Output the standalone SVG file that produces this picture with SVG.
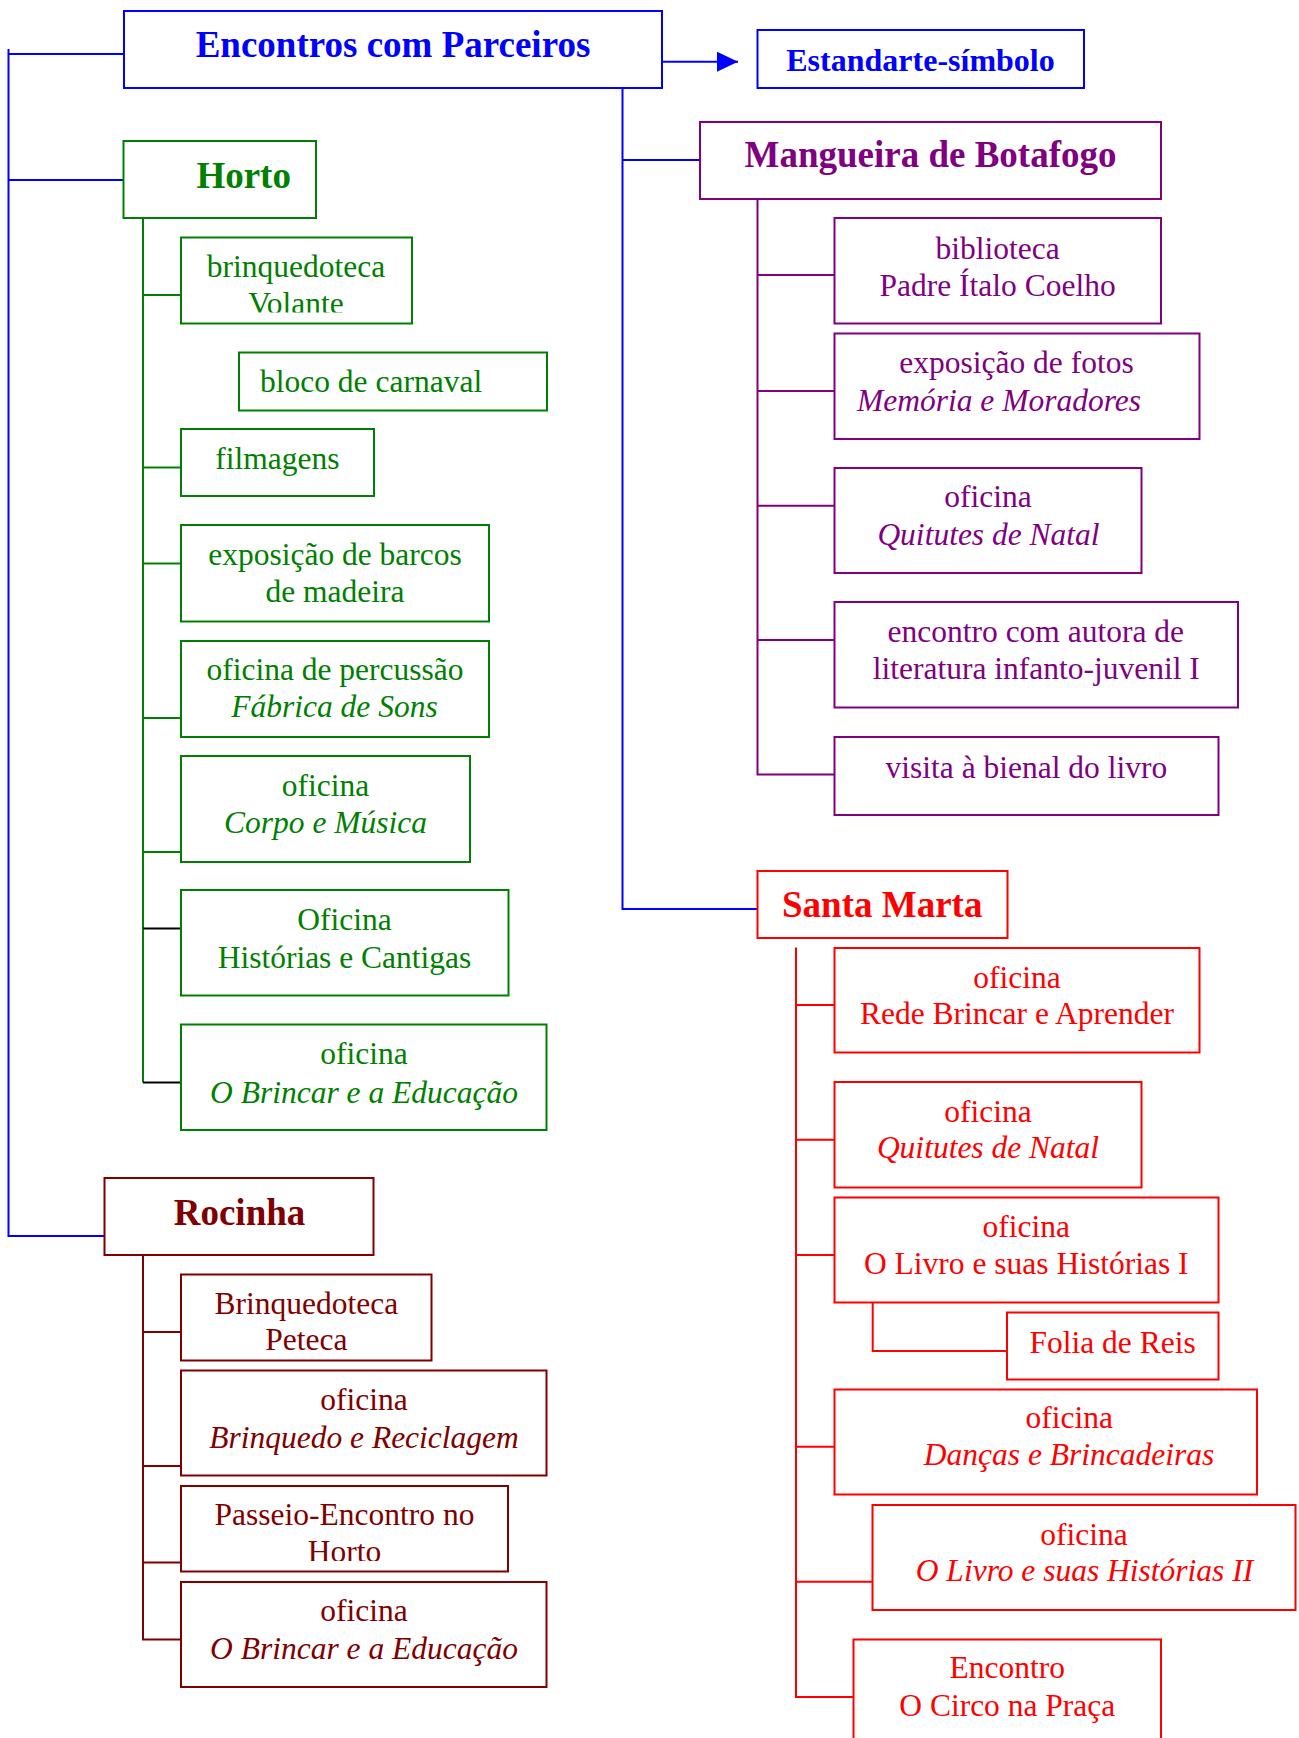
<svg xmlns="http://www.w3.org/2000/svg" width="1299" height="1738" viewBox="0 0 1299 1738">
<style>
rect{fill:#fff;stroke-width:2}
path{fill:none;stroke-width:2}
text{font-family:"Liberation Serif","Times New Roman",serif;font-size:31.5px;text-anchor:middle}
.t{font-weight:bold;font-size:37px}
.i{font-style:italic}
.b rect,.b path{stroke:#0000ff}.b text{fill:#0000ff}
.g rect,.g path{stroke:#008000}.g text{fill:#008000}
.p rect,.p path{stroke:#800080}.p text{fill:#800080}
.d rect,.d path{stroke:#800000}.d text{fill:#800000}
.r rect,.r path{stroke:#ff0000}.r text{fill:#ff0000}
.k path{stroke:#000}
path.head{fill:#0000ff;stroke:none}
</style>
<defs>
<marker id="arr" markerUnits="userSpaceOnUse" markerWidth="22" markerHeight="20" refX="21" refY="10" orient="auto"><path class="head" d="M0,0 L21,10 L0,20 z"/></marker>
<clipPath id="c1"><rect x="0" y="0" width="1299" height="312.5"/></clipPath>
<clipPath id="c2"><rect x="0" y="1300" width="1299" height="261"/></clipPath>
</defs>
<g id="connectors">
<g class="b">
<path d="M8.5,49 V1236 H104.5"/>
<path d="M8.5,54 H124"/>
<path d="M8.5,180 H123.5"/>
<path d="M662,61.7 H738" marker-end="url(#arr)"/>
<path d="M622.5,88 V909 H757.5"/>
<path d="M622.5,160 H700"/>
</g>
<g class="g">
<path d="M143,218 V1082.5"/>
<path d="M143,295 H181 M143,467.5 H181 M143,563.5 H181 M143,718 H181 M143,852 H181"/>
</g>
<g class="k">
<path d="M143,928.5 H181 M143,1082.5 H181"/>
</g>
<g class="d">
<path d="M143,1255 V1639.5 H181 M143,1332 H181 M143,1466 H181 M143,1562.5 H181"/>
</g>
<g class="p">
<path d="M757.5,199 V774.5 H834.5 M757.5,275 H834.5 M757.5,391 H834.5 M757.5,505.7 H834.5 M757.5,640 H834.5"/>
</g>
<g class="r">
<path d="M796,947.5 V1697 H853.5 M796,1005 H834.5 M796,1139.7 H834.5 M796,1255 H834.5 M796,1446.7 H834.5 M796,1581.7 H872.5"/>
<path d="M872.7,1293 V1351 H1007"/>
</g>
</g>

<g id="encontros" class="b"><rect x="124" y="11" width="538" height="77"/><text class="t" x="393" y="56.5">Encontros com Parceiros</text></g>
<g id="estandarte" class="b"><rect x="757.5" y="30" width="326.5" height="58"/><text class="t" style="font-size:32px" x="920.5" y="70.5">Estandarte-símbolo</text></g>

<g id="horto" class="g"><rect x="123.5" y="141" width="192.5" height="77"/><text class="t" x="243.7" y="187.5">Horto</text></g>
<g id="h-brinquedoteca" class="g"><rect x="181" y="237.5" width="231" height="86"/><text x="296" y="277">brinquedoteca</text><text x="296" y="313.5" clip-path="url(#c1)">Volante</text></g>
<g id="h-bloco" class="g"><rect x="239" y="352.5" width="308" height="58"/><text x="260" y="391.5" style="text-anchor:start">bloco de carnaval</text></g>
<g id="h-filmagens" class="g"><rect x="181" y="429" width="193" height="67"/><text x="277.3" y="469">filmagens</text></g>
<g id="h-barcos" class="g"><rect x="181" y="525" width="308" height="96.5"/><text x="335" y="565">exposição de barcos</text><text x="335" y="601.5">de madeira</text></g>
<g id="h-percussao" class="g"><rect x="181" y="641" width="308" height="96"/><text x="335" y="680">oficina de percussão</text><text class="i" x="334.5" y="717">Fábrica de Sons</text></g>
<g id="h-corpo" class="g"><rect x="181" y="756" width="289" height="106"/><text x="325.5" y="795.5">oficina</text><text class="i" x="325.5" y="833">Corpo e Música</text></g>
<g id="h-historias" class="g"><rect x="181" y="890" width="327.5" height="105.5"/><text x="344.5" y="930">Oficina</text><text x="344.5" y="968">Histórias e Cantigas</text></g>
<g id="h-brincar" class="g"><rect x="181" y="1024.5" width="365.5" height="105.5"/><text x="364" y="1064">oficina</text><text class="i" x="364" y="1102.5">O Brincar e a Educação</text></g>

<g id="rocinha" class="d"><rect x="104.5" y="1178" width="269" height="77"/><text class="t" x="239.5" y="1225">Rocinha</text></g>
<g id="r-peteca" class="d"><rect x="181" y="1274.5" width="250.5" height="86"/><text x="306.3" y="1314">Brinquedoteca</text><text x="306.3" y="1349.5">Peteca</text></g>
<g id="r-reciclagem" class="d"><rect x="181" y="1370.5" width="365.5" height="105"/><text x="364" y="1410">oficina</text><text class="i" x="364" y="1448">Brinquedo e Reciclagem</text></g>
<g id="r-passeio" class="d"><rect x="181" y="1486" width="327" height="85.5"/><text x="344.5" y="1525">Passeio-Encontro no</text><text x="344.5" y="1562" clip-path="url(#c2)">Horto</text></g>
<g id="r-brincar" class="d"><rect x="181" y="1582" width="365.5" height="105"/><text x="364" y="1620.5">oficina</text><text class="i" x="364" y="1658.5">O Brincar e a Educação</text></g>

<g id="mangueira" class="p"><rect x="700" y="122" width="461" height="77"/><text class="t" x="930.5" y="166.5">Mangueira de Botafogo</text></g>
<g id="m-biblioteca" class="p"><rect x="834.5" y="218" width="326.5" height="105.5"/><text x="997.6" y="258.5">biblioteca</text><text x="997.6" y="295.5">Padre Ítalo Coelho</text></g>
<g id="m-fotos" class="p"><rect x="834.5" y="333.5" width="365" height="105.5"/><text x="1016.5" y="372.5">exposição de fotos</text><text class="i" x="999" y="410.5">Memória e Moradores</text></g>
<g id="m-quitutes" class="p"><rect x="834.5" y="468" width="307" height="105"/><text x="988" y="506.5">oficina</text><text class="i" x="988.5" y="545">Quitutes de Natal</text></g>
<g id="m-autora" class="p"><rect x="834.5" y="602" width="403.5" height="105.5"/><text x="1035.8" y="641.5">encontro com autora de</text><text x="1036.3" y="679">literatura infanto-juvenil I</text></g>
<g id="m-bienal" class="p"><rect x="834.5" y="737" width="384" height="78"/><text x="1026.4" y="778">visita à bienal do livro</text></g>

<g id="santa-marta" class="r"><rect x="757.5" y="871" width="250" height="67"/><text class="t" x="882.2" y="916.5">Santa Marta</text></g>
<g id="s-rede" class="r"><rect x="834.5" y="948" width="365" height="104.5"/><text x="1017" y="987.5">oficina</text><text x="1017" y="1024">Rede Brincar e Aprender</text></g>
<g id="s-quitutes" class="r"><rect x="834.5" y="1082" width="307" height="105.5"/><text x="988" y="1121.5">oficina</text><text class="i" x="988" y="1158">Quitutes de Natal</text></g>
<g id="s-livro1" class="r"><rect x="834.5" y="1197.5" width="384" height="105"/><text x="1026.3" y="1236.5">oficina</text><text x="1026.3" y="1274">O Livro e suas Histórias I</text></g>
<g id="s-folia" class="r"><rect x="1007" y="1312.5" width="211.5" height="67"/><text x="1112.6" y="1352.5">Folia de Reis</text></g>
<g id="s-dancas" class="r"><rect x="834.5" y="1389.5" width="422.5" height="105"/><text x="1069.2" y="1427.5">oficina</text><text class="i" x="1069" y="1465">Danças e Brincadeiras</text></g>
<g id="s-livro2" class="r"><rect x="872.5" y="1505" width="423" height="105"/><text x="1084" y="1545">oficina</text><text class="i" x="1084.5" y="1581">O Livro e suas Histórias II</text></g>
<g id="s-circo" class="r"><rect x="853.5" y="1639.5" width="307.5" height="115"/><text x="1007.3" y="1678">Encontro</text><text x="1007.3" y="1716">O Circo na Praça</text></g>
</svg>
